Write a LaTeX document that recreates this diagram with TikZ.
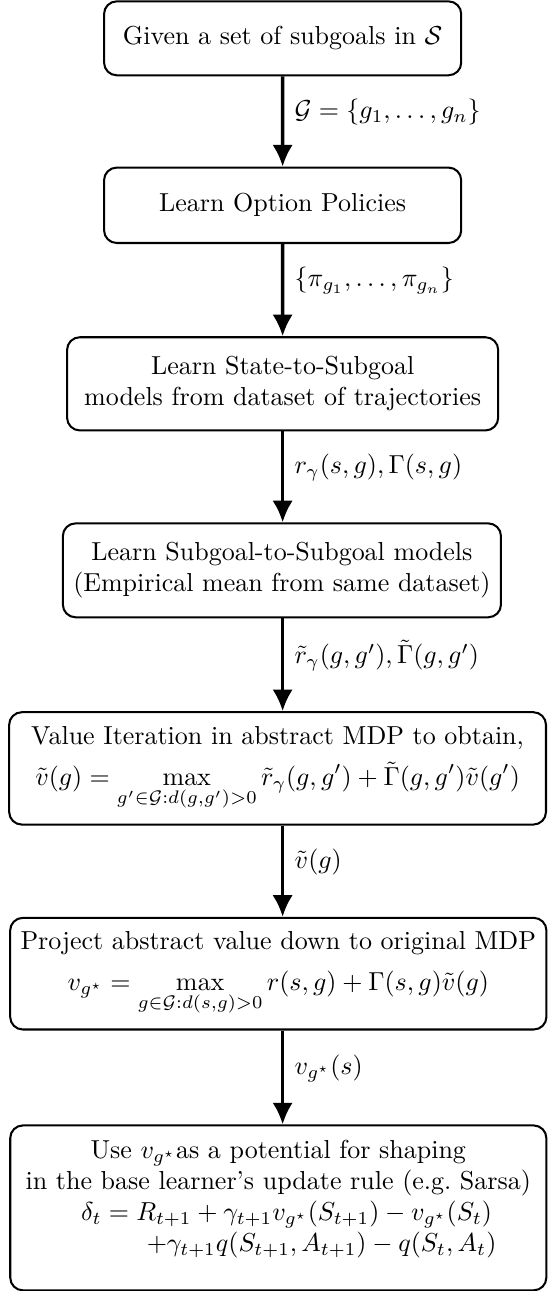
\documentclass[tikz,border=0pt]{standalone}
\usepackage{amsmath}
\usepackage{tikz}
\usetikzlibrary{positioning, arrows.meta, calc}
\tikzset{
  stepbox/.style={
    rectangle, rounded corners=5pt,
    draw=black, line width=0.8pt,
    inner sep=4pt,
    align=center,
    scale=1.023
  },
  flowarrow/.style={
    -{Latex[length=8.5pt, width=8pt]},
    black, line width=1.3pt
  },
  edgelabel/.style={right, pos=0.4, inner sep=4pt, scale=1.023}
}

\begin{document}
\begin{tikzpicture}
      \useasboundingbox (0,0) rectangle (7.57,-17.86);
      \node[stepbox, minimum width=4.83cm, minimum height=1.00cm] (given) at (3.91,-0.53) {Given a set of subgoals in $\mathcal{S}$};
      \node[stepbox, minimum width=4.83cm, minimum height=1.02cm] (options) at (3.91,-2.84) {Learn Option Policies};
      \node[stepbox, minimum width=5.83cm, minimum height=1.26cm] (statemod) at (3.91,-5.31) {Learn State-to-Subgoal\\models from dataset of trajectories};
      \node[stepbox, minimum width=5.86cm, minimum height=1.27cm] (goalmod) at (3.90,-7.89) {Learn Subgoal-to-Subgoal models\\(Empirical mean from same dataset)};
      \node[stepbox, minimum width=7.26cm, minimum height=1.52cm] (valiter) at (3.84,-10.63) {Value Iteration in abstract MDP to obtain,\\[4pt]$\displaystyle \tilde{v}(g) = \max_{g'\in\mathcal{G}:d(g,g')>0} \tilde{r}_\gamma(g,g') + \tilde{\Gamma}(g,g')\tilde{v}(g')$};
      \node[stepbox, minimum width=7.25cm, minimum height=1.51cm] (project) at (3.85,-13.47) {Project abstract value down to original MDP\\[4pt]$\displaystyle v_{g^\star} = \max_{g\in\mathcal{G}:d(s,g)>0} r(s,g) + \Gamma(s,g)\tilde{v}(g)$};
      \node[stepbox, minimum width=7.25cm, minimum height=2.23cm] (shaping) at (3.85,-16.71) {Use $v_{g^\star}$as a potential for shaping\\
        in the base learner's update rule (e.g.\ Sarsa)\\
        \hspace{8pt}$\begin{aligned}\delta_t = {}& R_{t+1} + \gamma_{t+1}v_{g^\star}(S_{t+1}) - v_{g^\star}(S_t)\\[-3pt]
          &\hspace{4pt}{+}\gamma_{t+1}q(S_{t+1},A_{t+1}) - q(S_t,A_t)\end{aligned}\rule[-15pt]{0pt}{0pt}$};
      \draw[flowarrow] (given) -- node[edgelabel] {$\mathcal{G} = \{g_1,\dots,g_n\}$} (options);
      \draw[flowarrow] (options) -- node[edgelabel] {$\{\pi_{g_1},\dots,\pi_{g_n}\}$} (statemod);
      \draw[flowarrow] (statemod.south -| given.south) -- node[edgelabel] {$r_\gamma(s,g), \Gamma(s,g)$} (goalmod.north -| given.south);
      \draw[flowarrow] (goalmod.south -| given.south) -- node[edgelabel] {$\tilde{r}_\gamma(g,g'), \tilde{\Gamma}(g,g')$} (valiter.north -| given.south);
      \draw[flowarrow] (valiter.south -| given.south) -- node[edgelabel] {$\tilde{v}(g)$} (project.north -| given.south);
      \draw[flowarrow] (project.south -| given.south) -- node[edgelabel] {$v_{g^\star}(s)$} (shaping.north -| given.south);
\end{tikzpicture}
\end{document}
